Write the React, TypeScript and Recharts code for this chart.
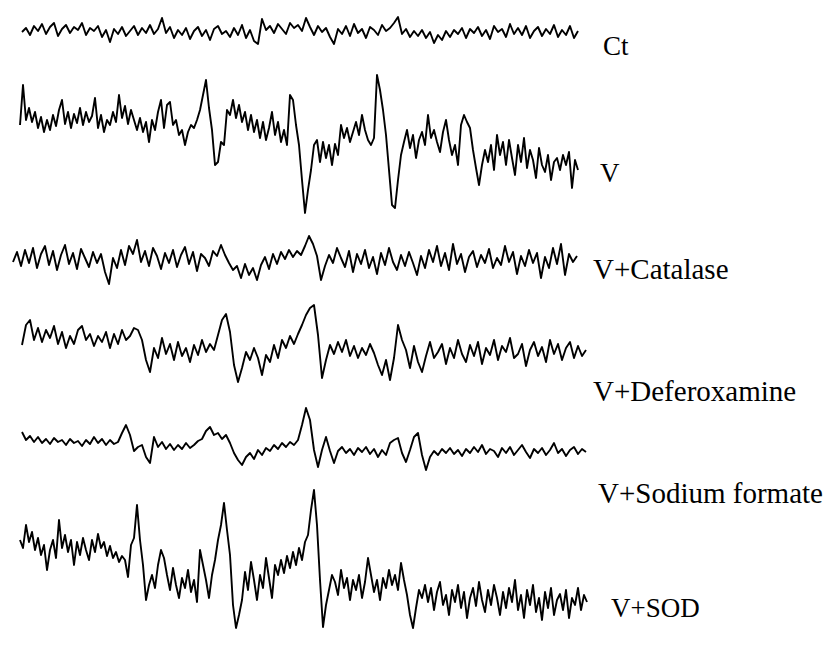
import React from 'react';
import { LineChart, Line, XAxis, YAxis } from 'recharts';

const ctSignal = [
  0, 4, -3, 6, 1, 8, -2, 5, 9, -4, 3, 7, -1, 5, 2, 9, -3, 4, 1, 6, -5, 2, -10, 3, -2, 5, -4, 1, 6, -3,
  4, -1, 7, -2, 3, 14, -1, 5, -6, 2, -3, 4, -7, 1, 5, -4, 2, -8, 3, 6, -2, 1, -5, 4, -3, 7, -6, 2, -9, -12,
  13, 2, 6, -1, 8, 3, -2, 9, 4, 7, 1, 14, 5, -3, 6, 0, 4, -5, -12, 3, -2, 6, -4, 8, -1, 3, -6, 5, 2, -3,
  7, 1, 4, 9, 15, -2, 3, -5, 1, -4, 2, -6, 0, -11, -3, -8, 1, -5, 2, -2, 4, -6, 3, -1, 5, -4, 2, -7, 6, 0,
  3, -5, 8, -2, 4, -3, 6, -6, 1, 5, -4, 3, -2, 7, -5, 2, -3, 6, -6, 1,
];

const vSignal = [
  25, 65, 30, 42, 28, 38, 22, 33, 18, 30, 20, 35, 24, 40, 50, 26, 38, 22, 36, 27,
  42, 25, 38, 28, 34, 52, 22, 35, 18, 30, 25, 38, 28, 55, 32, 44, 26, 40, 30, 20,
  32, 18, 28, 8, 30, 20, 38, 50, 22, 45, 48, 25, 30, 15, 20, 5, 18, 25, 22, 30,
  40, 55, 70, 42, 20, -15, -12, 8, 5, 40, 35, 50, 32, 45, 28, 38, 20, 35, 18, 30,
  12, 28, 10, 22, 38, 15, 28, 8, 20, 5, 55, 50, 25, 5, -30, -63, -40, -20, 5, 10,
  -12, 8, -8, 5, -15, 6, -5, 25, 12, 22, 8, 18, 28, 15, 35, 20, 10, 5, 12, 75,
  60, 40, 15, -20, -55, -58, -30, -5, 8, 20, 2, 15, -8, 10, 18, 5, 35, 12, 20, 8,
  -2, 18, 30, 10, -5, 5, -15, 25, 35, 28, 22, 0, -18, -35, -15, 0, -12, 5, -20, 15,
  -5, 8, -15, 10, -8, -25, 5, -12, 12, -18, 0, -10, -28, 2, -15, -22, -5, -30, -12, -8,
  -20, -5, -15, -2, -38, -10, -20,
];

const catalaseSignal = [
  -2, 8, -6, 10, -3, 12, -8, 6, 14, -5, 9, -10, 5, 15, -4, 7, -9, 11, 2, -7,
  8, -3, 6, -12, -24, 2, -8, 10, -5, 14, 6, 20, -2, 9, -6, 12, 4, -9, 7, -3,
  10, -7, 5, 13, -4, 8, -11, 6, 2, -6, 9, 4, 15, 5, -3, -10, -6, -18, -4, -15,
  -8, -20, -5, 3, -9, 6, -4, 8, 1, 10, 3, 9, 5, 14, 24, 16, 4, -20, -6, 5,
  -3, 12, 2, -7, 9, -12, 6, -4, 10, -8, 3, -14, 7, -5, 12, -2, -10, 5, -6, 8,
  -3, -15, 4, -8, 10, -2, 14, -6, 7, -10, 16, -4, 6, -12, 3, 9, -7, 5, -3, 11,
  -8, 2, -5, 14, -2, 8, -14, 4, -6, 10, -3, 7, -18, 3, -8, 12, -4, 16, -15, 6,
  -2, 4,
];

const deferoxamineSignal = [
  5, 25, 30, 10, 22, 8, 20, 12, 24, 6, 18, 2, 14, 6, 20, 24, 10, 16, 4, 14,
  8, 18, 2, 16, 6, 20, 10, 14, 22, 20, 10, -10, -22, 2, -8, 12, -4, 6, -10, 8,
  -6, 2, -12, 5, -5, 10, -2, 6, 0, 15, 30, 36, 18, -15, -32, -18, -2, -10, 2, -8,
  -25, -5, -12, 5, -8, 10, 2, 14, 6, 16, 25, 35, 42, 45, 15, -28, -10, 5, -4, 8,
  -2, 10, -6, 4, -8, 2, -5, 6, -3, -15, -25, -10, -30, -8, 25, 10, 0, -18, 4, -12,
  -22, -6, 8, -8, -2, 6, -14, 2, -8, 10, -4, -12, 5, -6, 8, -14, 2, -5, 10, -10,
  4, -2, 12, -8, -4, 6, -16, 0, 8, -6, 3, -12, 10, -4, 6, -10, 2, 8, -8, 4,
  -6, 0,
];

const sodiumFormateSignal = [
  13, 5, 9, 3, 8, 2, 6, 1, 7, 3, 5, 0, 6, 2, 4, -1, 5, 1, 8, 2,
  6, 0, 5, 1, 3, 12, 20, 10, -6, -2, 0, -12, -18, 8, -2, 3, -4, 1, -5, 0,
  -4, 2, -3, 0, 4, 6, 14, 18, 10, 12, 6, 10, 2, -8, -15, -20, -12, -8, -14, -5,
  -10, -3, -6, 0, -4, 2, -2, 3, 0, 5, 20, 37, 25, -5, -22, -5, 8, -6, -18, -6,
  -2, -8, -4, -10, -3, -7, -2, -9, -4, -12, -5, -10, 2, 5, 7, -8, -17, -5, 8, 12,
  -10, -25, -12, -6, -10, -4, -8, -3, -9, -5, -11, -4, -8, -2, -7, 0, -9, -4, -6, -12,
  -3, -8, -2, -10, -5, 0, -7, -13, -4, -8, -3, -10, -5, 2, -8, -4, -11, -5, -2, -9,
  -4, -7,
];

const sodSignal = [
  30, 22, 45, 28, 38, 20, 32, 15, 25, 0, 20, 30, 12, 50, 22, 35, 18, 30, 5, 28,
  15, 32, 20, 10, 30, 18, 36, 22, 28, 14, 24, 12, 18, 8, 14, 10, -7, 25, 32, 65,
  30, 5, -30, -15, -5, -18, 5, 20, 12, -5, -20, 2, -15, -28, -8, -18, 0, -22, -10, -32,
  20, 5, -10, -28, -5, 10, 30, 45, 67, 40, 15, -35, -58, -45, -30, -2, -20, 8, -10, -30,
  -5, -18, 12, -8, -28, 5, -5, 10, -3, 14, 2, 18, 5, 22, 10, 28, 35, 60, 80, 45,
  -10, -57, -35, -20, -5, -12, -25, 0, -18, -8, -30, -10, -20, -5, -28, -12, 12, -5, -22, -10,
  -30, -8, -18, 0, -15, -5, -20, 7, -10, -25, -45, -58, -38, -20, -28, -15, -32, -18, -40, -22,
  -12, -35, -25, -45, -20, -32, -15, -38, -22, -48, -28, -18, -36, -12, -30, -42, -20, -35, -15, -28,
  -45, -22, -38, -18, -32, -10, -40, -25, -48, -20, -35, -15, -42, -28, -50, -22, -38, -18, -45, -30,
  -24, -40, -20, -48, -28, -35, -18, -40, -25, -32,
];

const traceLabels = ['Ct', 'V', 'V+Catalase', 'V+Deferoxamine', 'V+Sodium formate', 'V+SOD'];
const traceSignals = [ctSignal, vSignal, catalaseSignal, deferoxamineSignal, sodiumFormateSignal, sodSignal];

// layout (pixels) for each trace panel
const panels = [
  { x0: 22, x1: 578, base: 32, top: 10, height: 45, labelX: 603, labelBase: 55, fontSize: 27 },
  { x0: 20, x1: 578, base: 150, top: 70, height: 150, labelX: 600, labelBase: 182, fontSize: 27 },
  { x0: 13, x1: 577, base: 260, top: 230, height: 60, labelX: 593, labelBase: 279, fontSize: 29 },
  { x0: 22, x1: 586, base: 350, top: 295, height: 95, labelX: 593, labelBase: 401, fontSize: 29 },
  { x0: 22, x1: 586, base: 445, top: 400, height: 75, labelX: 598, labelBase: 503, fontSize: 29 },
  { x0: 20, x1: 587, base: 570, top: 480, height: 155, labelX: 611, labelBase: 617, fontSize: 27 },
];

const PAD = 3;

function Trace({ values, panel }: { values: number[]; panel: typeof panels[number] }) {
  const data = values.map((v, i) => ({ i, v }));
  const w = panel.x1 - panel.x0;
  const domain = [panel.base - (panel.top + panel.height), panel.base - panel.top];
  return (
    <div style={{ position: 'absolute', left: panel.x0 - PAD, top: panel.top - PAD }}>
      <LineChart
        width={w + PAD * 2}
        height={panel.height + PAD * 2}
        data={data}
        margin={{ top: PAD, right: PAD, bottom: PAD, left: PAD }}
      >
        <XAxis type="number" dataKey="i" domain={[0, values.length - 1]} hide />
        <YAxis type="number" domain={domain} hide allowDataOverflow />
        <Line
          type="linear"
          dataKey="v"
          stroke="#000"
          strokeWidth={1.9}
          strokeLinejoin="round"
          dot={false}
          activeDot={false}
          isAnimationActive={false}
        />
      </LineChart>
    </div>
  );
}

export default function App() {
  return (
    <div style={{ position: 'absolute', left: 0, top: 0, width: 824, height: 646, background: '#fff', overflow: 'hidden' }}>
      {traceSignals.map((values, k) => (
        <Trace key={k} values={values} panel={panels[k]} />
      ))}
      <svg width={824} height={646} style={{ position: 'absolute', left: 0, top: 0, pointerEvents: 'none' }}>
        {traceLabels.map((label, k) => (
          <text
            key={label}
            x={panels[k].labelX}
            y={panels[k].labelBase}
            fontFamily="'Liberation Serif', 'Times New Roman', serif"
            fontSize={panels[k].fontSize}
            fill="#000"
          >
            {label}
          </text>
        ))}
      </svg>
    </div>
  );
}
